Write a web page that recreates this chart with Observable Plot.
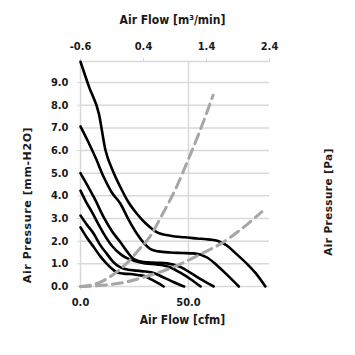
<!DOCTYPE html>
<html><head><meta charset="utf-8">
<script src="https://cdn.jsdelivr.net/npm/d3@7"></script>
<script src="https://cdn.jsdelivr.net/npm/@observablehq/plot@0.6"></script>
<style>body{margin:0;background:#fff}</style>
</head><body><div id="chart"></div>
<script>
// ---- data ----
const fan1X = [0, 4, 8.5, 11.6, 15, 18.5, 22, 26.2, 30, 33.2, 35.5, 41.7, 48, 54, 60, 63.3, 67.9, 72, 77.2, 81, 85.6];
const fan1Y = [9.92, 8.8, 7.63, 6.0, 5.1, 4.38, 3.75, 3.2, 2.8, 2.54, 2.39, 2.24, 2.17, 2.12, 2.07, 2.02, 1.8, 1.45, 0.99, 0.6, 0.0];
const fan2X = [0, 3.5, 6.9, 10.8, 14.5, 18.5, 22, 26.2, 29.5, 32.4, 36, 41.7, 47, 52.5, 58.6, 63, 68, 73.3];
const fan2Y = [7.07, 6.4, 5.7, 4.82, 4.15, 3.65, 3.0, 2.32, 1.9, 1.65, 1.55, 1.5, 1.48, 1.46, 1.28, 0.95, 0.5, 0.0];
const fan3X = [0, 3, 6.2, 10.8, 14.5, 18.5, 21.5, 24.7, 29.3, 35, 40.1, 46.3, 51, 56, 61.7];
const fan3Y = [5.0, 4.5, 3.94, 3.05, 2.45, 1.95, 1.55, 1.21, 1.08, 1.05, 1.02, 0.86, 0.6, 0.3, 0.0];
const fan4X = [0, 2.5, 5.4, 8, 10.8, 14.5, 18.5, 21.5, 24.7, 30, 35.5, 41.7, 46, 51, 55.6];
const fan4Y = [4.23, 3.75, 3.27, 2.8, 2.32, 1.8, 1.43, 1.25, 1.14, 1.02, 0.97, 0.84, 0.62, 0.32, 0.0];
const fan5X = [0, 3, 6.2, 9, 12.3, 15, 18.5, 22, 26.2, 30, 33.9, 38, 43, 48];
const fan5Y = [3.13, 2.72, 2.32, 1.85, 1.43, 1.1, 0.84, 0.74, 0.7, 0.66, 0.6, 0.42, 0.2, 0.0];
const fan6X = [0, 3, 6.2, 9, 12.3, 15, 17, 20, 23.1, 27, 29.3, 33, 38.5];
const fan6Y = [2.61, 2.15, 1.73, 1.35, 0.99, 0.75, 0.62, 0.57, 0.55, 0.5, 0.47, 0.3, 0.0];
const sysAX = [0, 5, 10, 16.2, 22, 27, 32.4, 38, 44, 49.4, 55, 61.4];
const sysAY = [0, 0.06, 0.23, 0.6, 1.08, 1.62, 2.24, 3.2, 4.3, 5.49, 6.8, 8.44];
const sysBX = [0, 10, 20, 33.9, 40, 47.8, 56, 64.8, 74, 84];
const sysBY = [0, 0.05, 0.18, 0.55, 0.75, 1.06, 1.45, 1.88, 2.5, 3.3];

const yTicks = [0, 1, 2, 3, 4, 5, 6, 7, 8, 9];
const xTicks = [0, 50];
const topTickLabels = [-0.6, 0.4, 1.4, 2.4];
const titleTop = "Air Flow [m³/min]";
const titleBottom = "Air Flow [cfm]";
const titleLeft = "Air Pressure [mm-H2O]";
const titleRight = "Air Pressure [Pa]";

// ---- build ----
const XMAX = 87.5, YMAX = 9.93;
const toCfm = v => (v - topTickLabels[0]) / (topTickLabels[3] - topTickLabels[0]) * XMAX;
const mk = (xs, ys, name) => xs.map((x, i) => ({x, y: ys[i], name}));
const fans = [
  mk(fan1X, fan1Y, "f1"), mk(fan2X, fan2Y, "f2"), mk(fan3X, fan3Y, "f3"),
  mk(fan4X, fan4Y, "f4"), mk(fan5X, fan5Y, "f5"), mk(fan6X, fan6Y, "f6")
].flat();
const sys = [mk(sysAX, sysAY, "A"), mk(sysBX, sysBY, "B")].flat();

const grid = "#d9d9d9";
const ink = "#1a1a1a";
const font = "'Liberation Sans Narrow','DejaVu Sans Condensed',sans-serif";

const chart = Plot.plot({
  width: 355, height: 355,
  marginLeft: 80, marginRight: 86, marginTop: 61, marginBottom: 69,
  x: {domain: [0, XMAX]},
  y: {domain: [0, YMAX]},
  style: {fontFamily: font, fontSize: "11px", fontWeight: "bold", background: "#fff"},
  marks: [
    Plot.gridY(yTicks.slice(1), {stroke: grid, strokeOpacity: 1, strokeWidth: 1.5}),
    Plot.gridX([50], {stroke: grid, strokeOpacity: 1, strokeWidth: 1.5}),
    Plot.ruleY([YMAX], {stroke: grid, strokeWidth: 1.5}),
    Plot.ruleY([0], {stroke: grid, strokeWidth: 1.5}),
    Plot.ruleX([0], {stroke: grid, strokeWidth: 1.5}),
    Plot.axisY({ticks: yTicks, tickFormat: d => d.toFixed(1), tickSize: 3, tickPadding: 9, label: null, stroke: grid, fill: ink}),
    Plot.axisX({anchor: "bottom", ticks: xTicks, tickFormat: d => d.toFixed(1), tickSize: 4, tickPadding: 8, label: null, stroke: grid, fill: ink}),
    Plot.axisX({anchor: "top", ticks: topTickLabels.map(toCfm), tickFormat: (d, i) => topTickLabels[i].toFixed(1), tickSize: 4, tickPadding: 8, label: null, stroke: grid, fill: ink}),
    Plot.line(fans, {x: "x", y: "y", z: "name", stroke: "#000", strokeWidth: 2.6, curve: "monotone-x"}),
    Plot.line(sys, {x: "x", y: "y", z: "name", stroke: "#a6a6a6", strokeWidth: 3, strokeDasharray: "10,6", curve: "monotone-x"})
  ]
});

// axis titles
const svg = d3.select(chart);
const addTitle = (txt, x, y, rot, family, size, spacing) => {
  svg.append("text")
    .attr("transform", `translate(${x},${y}) rotate(${rot})`)
    .attr("text-anchor", "middle")
    .attr("dominant-baseline", "central")
    .style("font-family", family)
    .style("font-size", size + "px")
    .style("font-weight", "bold")
    .style("letter-spacing", spacing + "px")
    .attr("fill", ink)
    .text(txt);
};
const wide = "'DejaVu Sans','Liberation Sans',sans-serif";
addTitle(titleTop, 172.5, 20, 0, font, 12, 0);
addTitle(titleBottom, 182.5, 320, 0, font, 12, 0);
addTitle(titleLeft, 27, 205, -90, wide, 11, 0.6);
addTitle(titleRight, 328, 202, -90, wide, 10.5, 0.4);

document.getElementById("chart").appendChild(chart);
</script>
</body></html>
